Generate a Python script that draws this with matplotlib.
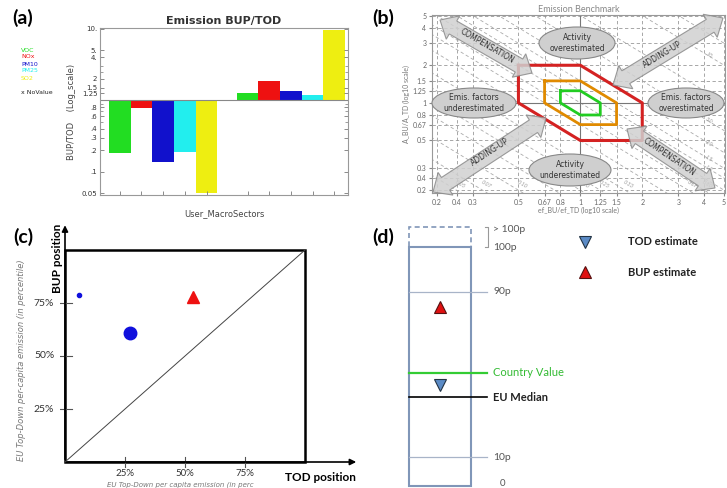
import numpy as np
import matplotlib
matplotlib.use("Agg")
import matplotlib.pyplot as plt
from matplotlib.patches import Polygon, Ellipse, Rectangle

plt.rcParams['font.family'] = ['Lato', 'DejaVu Sans']

W, H = 727, 488

# ---- panel (a) data: BUP/TOD ratio per pollutant, two macro sectors
pollutants = ['VOC', 'NOx', 'PM10', 'PM25', 'SO2']
poll_colors = ['#22dd22', '#ee1111', '#1111cc', '#22eeee', '#eeee11']
sector1 = [0.18, 0.79, 0.135, 0.186, 0.05]
sector2 = [1.25, 1.88, 1.34, 1.2, 9.6]
a_ticks = [10, 5, 4, 2, 1.5, 1.25, 0.8, 0.6, 0.4, 0.3, 0.2, 0.1, 0.05]
a_ticklabels = ['10.', '5.', '4.', '2', '1.5', '1.25', '.8', '.6', '.4', '.3', '.2', '.1', '0.05']
a_minor = [3, 2.5, 1, 0.9, 0.7, 0.5]

# ---- panel (b) data
b_ticks = [0.2, 0.25, 0.3, 0.5, 0.67, 0.8, 1, 1.25, 1.5, 2, 3, 4, 5]
b_ticklabels = ['0.2', '0.4', '0.3', '0.5', '0.67', '0.8', '1', '1.25', '1.5', '2', '3', '4', '5']
iso_values = [0.05, 0.067, 0.1, 0.15, 0.2, 0.25, 0.33, 0.5, 0.67, 0.8, 1, 1.25, 1.5, 2, 3, 5, 10, 15]
iso_bottom = [0.05, 0.067, 0.1, 0.2, 0.25, 0.33, 0.67, 0.8]
iso_right = [10, 3.0, 2.0, 1.5, 1.25]
red_x = [0.5, 1, 2, 2, 1, 0.5, 0.5]
red_y = [2, 2, 1, 0.5, 0.5, 1, 2]
orange_x = [0.67, 1, 1.5, 1.5, 1, 0.67, 0.67]
orange_y = [1.5, 1.5, 1, 0.67, 0.67, 1, 1.5]
green_x = [0.8, 1, 1.25, 1.25, 1, 0.8, 0.8]
green_y = [1.25, 1.25, 1, 0.8, 0.8, 1, 1.25]

# ---- panel (c) data (percentiles)
tod_pos = [6, 27, 53.5]
bup_pos = [79, 61, 78]
c_marker = ['o', 'o', '^']
c_color = ['#1010dd', '#1010dd', '#ee1111']
c_size = [3, 9, 9]
c_ticks = [25, 50, 75]
c_ticklabels = ['25%', '50%', '75%']

# ---- panel (d) data (schematic column height)
d_lines = [81.2, 12.1]
d_line_labels = ['90p', '10p']
country_value = 47.3
eu_median = 37.2
tod_estimate = 42.3
bup_estimate = 74.9

fig = plt.figure(figsize=(W / 100, H / 100), dpi=100)


def px_axes(l, t, r, b):
    return fig.add_axes([l / W, 1 - b / H, (r - l) / W, (b - t) / H])


# =================== (a)
ax = px_axes(100, 28, 348, 195)
xpos1 = np.arange(5) + 0.91
xpos2 = np.arange(5) + 6.8
for i in range(5):
    ax.bar(xpos1[i], sector1[i] - 1, bottom=1, width=1.0, color=poll_colors[i])
    ax.bar(xpos2[i], sector2[i] - 1, bottom=1, width=1.0, color=poll_colors[i])
ax.set_yscale('log')
ax.set_ylim(0.047, 10.3)
ax.set_xlim(0, 11.43)
ax.axhline(1, color='#888888', lw=0.8)
ax.set_yticks(a_ticks)
ax.set_yticklabels(a_ticklabels, fontsize=5, color='#333333', family='DejaVu Sans')
ax.set_yticks(a_minor, minor=True)
ax.yaxis.set_minor_formatter(matplotlib.ticker.NullFormatter())
ax.set_xticks(np.concatenate([xpos1, xpos2]))
ax.set_xticklabels([])
ax.tick_params(direction='in', length=3, color='#777777', right=True, width=0.6, pad=2)
ax.tick_params(which='minor', direction='in', length=2, color='#777777', right=True, width=0.5)
for s in ax.spines.values():
    s.set_color('#999999')
ax.set_title('Emission BUP/TOD', fontsize=8, fontweight='bold', pad=3,
             family='DejaVu Sans', color='#333333')
ax.set_xlabel('User_MacroSectors', fontsize=6, color='#444444', labelpad=8,
              family='DejaVu Sans')
ax.set_ylabel('BUP/TOD    (Log_scale)', fontsize=6, color='#444444', labelpad=4,
              family='DejaVu Sans')
for i, p in enumerate(pollutants):
    fig.text(21 / W, 1 - (50 + 7 * i) / H, p, fontsize=4.5, color=poll_colors[i],
             va='center', family='DejaVu Sans')
fig.text(21 / W, 1 - 92 / H, 'x NoValue', fontsize=4.5, color='#222222', va='center',
         family='DejaVu Sans')

# =================== (b)
bx = px_axes(432, 15, 725, 193)
bx.set_xscale('log')
bx.set_yscale('log')
bx.set_xlim(0.19, 5.05)
bx.set_ylim(0.19, 5.05)
xx = np.logspace(np.log10(0.15), np.log10(6), 50)
for c in iso_values:
    bx.plot(xx, c / xx, ls=(0, (4, 3)), color='#aaaaaa', lw=0.6)
bx.set_xticks(b_ticks)
bx.set_xticklabels(b_ticklabels, fontsize=5, color='#666666')
bx.set_yticks(b_ticks)
bx.set_yticklabels(b_ticklabels, fontsize=5, color='#666666')
bx.xaxis.set_minor_locator(matplotlib.ticker.NullLocator())
bx.yaxis.set_minor_locator(matplotlib.ticker.NullLocator())
bx.tick_params(length=2, color='#888888', pad=2)
bx.grid(True, ls=(0, (4, 3)), color='#999999', lw=0.6)
bx.axvline(1, color='#777777', lw=0.8)
bx.axhline(1, color='#777777', lw=0.8)
for s in bx.spines.values():
    s.set_color('#999999')
bx.plot(red_x, red_y, color='#d42222', lw=2.2, zorder=3)
bx.plot(orange_x, orange_y, color='#e08a00', lw=2.0, zorder=3)
bx.plot(green_x, green_y, color='#22cc22', lw=2.0, zorder=3)
for c in iso_bottom:
    bx.text(c / 0.2 * 1.04, 0.205, '%.2f' % c, fontsize=4, color='#999999', style='italic',
            rotation=-30, ha='center', va='bottom')
for c in iso_right:
    bx.text(4.2, c / 4.2, '%.1f' % c if c < 10 else '10', fontsize=4, color='#999999',
            style='italic', rotation=-30, ha='center', va='center')
bx.set_title('Emission Benchmark', fontsize=6.5, color='#888888', pad=2)
bx.set_xlabel('ef_BU/ef_TD (log10 scale)', fontsize=5, color='#777777', labelpad=1)
bx.set_ylabel('A_BU/A_TD (log10 scale)', fontsize=5, color='#777777', labelpad=2)

# overlay in pixel coordinates for the big arrows and ellipses of (b)
ov = fig.add_axes([0, 0, 1, 1])
ov.set_xlim(0, W)
ov.set_ylim(H, 0)
ov.axis('off')


def block_arrow(p0, p1, w=15, hw=27, hl=15):
    p0 = np.array(p0, float)
    p1 = np.array(p1, float)
    u = (p1 - p0) / np.hypot(*(p1 - p0))
    n = np.array([-u[1], u[0]])
    pts = [p0, p0 + u * hl + n * hw / 2, p0 + u * hl + n * w / 2,
           p1 - u * hl + n * w / 2, p1 - u * hl + n * hw / 2, p1,
           p1 - u * hl - n * hw / 2, p1 - u * hl - n * w / 2,
           p0 + u * hl - n * w / 2, p0 + u * hl - n * hw / 2]
    ov.add_patch(Polygon(pts, closed=True, fc='#d0d0d0', ec='#8a8a8a', lw=0.8, alpha=0.85))


arrows = [((440, 20), (532, 73), 'COMPENSATION', (487, 46), -30),
          ((613, 85), (723, 18), 'ADDING-UP', (662, 55), 31),
          ((433, 192), (546, 118), 'ADDING-UP', (490, 152), 33),
          ((627, 129), (715, 188), 'COMPENSATION', (669, 157), -34)]
for p0, p1, label, pos, rot in arrows:
    block_arrow(p0, p1)
    ov.text(pos[0], pos[1], label, fontsize=5.5, color='#333333', rotation=rot,
            ha='center', va='center', rotation_mode='anchor', family='DejaVu Sans')

ellipses = [((577, 43), 76, 32, 'Activity\noverestimated'),
            ((474, 103), 84, 30, 'Emis. factors\nunderestimated'),
            ((686, 103), 76, 30, 'Emis. factors\noverestimated'),
            ((570, 170), 82, 32, 'Activity\nunderestimated')]
for (cx, cy), ew, eh, label in ellipses:
    ov.add_patch(Ellipse((cx, cy), ew, eh, fc='#cfcfcf', ec='#888888', lw=0.8))
    ov.text(cx, cy, label, fontsize=5.5, color='#333333', ha='center', va='center',
            linespacing=1.3, family='DejaVu Sans')

# =================== (c)
cx_ = px_axes(60, 222, 360, 470)
cx_.patch.set_visible(False)
cx_.set_xlim(-5 / 2.4, 295 / 2.4)
cx_.set_ylim(-8 / 2.12, 240 / 2.12)
cx_.add_patch(Rectangle((0, 0), 100, 100, fill=False, ec='black', lw=1.8))
cx_.plot([0, 100], [0, 100], color='#444444', lw=0.7)
cx_.annotate('', xy=(0, 113), xytext=(0, 0),
             arrowprops=dict(arrowstyle='-|>', color='black', lw=1.2, mutation_scale=9))
cx_.annotate('', xy=(122.5, 0), xytext=(0, 0),
             arrowprops=dict(arrowstyle='-|>', color='black', lw=1.2, mutation_scale=9))
for i in range(3):
    cx_.plot(tod_pos[i], bup_pos[i], marker=c_marker[i], color=c_color[i],
             ms=c_size[i], ls='none')
for s in cx_.spines.values():
    s.set_visible(False)
cx_.set_xticks([])
cx_.set_yticks([])
for t, lab in zip(c_ticks, c_ticklabels):
    cx_.plot([-3, 3], [t, t], color='#555555', lw=0.8)
    cx_.text(-4.5, t, lab, ha='right', va='center', fontsize=7.5, color='#333333')
    cx_.plot([t, t], [-2.5, 2.5], color='#555555', lw=0.8)
    cx_.text(t, -3.2, lab, ha='center', va='top', fontsize=7, color='#333333')
cx_.text(-3, 96, 'BUP position', rotation=90, fontsize=8.5, fontweight='bold',
         ha='center', va='center')
cx_.text(121, -4.8, 'TOD position', fontsize=8.5, fontweight='bold', ha='right', va='top')
fig.text(22 / W, 1 - 360 / H, 'EU Top-Down per-capita emission (in percentile)',
         rotation=90, fontsize=6, style='italic', color='#777777', ha='center', va='center',
         family='DejaVu Sans')
fig.text(180 / W, 0.5 / H, 'EU Top-Down per capita emission (in perc',
         fontsize=5, style='italic', color='#777777', ha='center', va='bottom',
         family='DejaVu Sans')

# =================== (d)
dx = px_axes(360, 220, 727, 488)
dx.set_xlim(0, 367)
dx.set_ylim(-2 / 2.39, 266 / 2.39)
dx.axis('off')
box_c = '#8096b8'
dx.add_patch(Rectangle((49, 0), 62, 100, fill=False, ec=box_c, lw=1.5))
dx.add_patch(Rectangle((49, 100), 62, 8.4, fill=False, ec=box_c, lw=1.2, ls=(0, (3, 2))))
dx.plot([125, 128, 128, 125], [108.4, 108.4, 100, 100], color='#999999', lw=0.8)
dx.text(133, 107.4, '> 100p', fontsize=7.5, color='#555555', va='center')
dx.text(133, 99.8, '100p', fontsize=7.5, color='#555555', va='center')
for lv, lab in zip(d_lines, d_line_labels):
    dx.plot([49, 127], [lv, lv], color='#a8b4c8', lw=0.9)
    dx.text(133, lv, lab, fontsize=7.5, color='#555555', va='center')
dx.text(143, -0.7, '0', fontsize=7, color='#555555', va='bottom', ha='center')
dx.plot([49, 127], [country_value, country_value], color='#33cc33', lw=1.6)
dx.text(133, country_value, 'Country Value', fontsize=8, color='#33bb33', va='center')
dx.plot([49, 127], [eu_median, eu_median], color='black', lw=1.2)
dx.text(133, eu_median, 'EU Median', fontsize=8, fontweight='bold', color='#222222',
        va='center')
dx.plot(80, tod_estimate, marker='v', ms=8, mfc='#5b8bc6', mec='#223344', mew=0.8)
dx.plot(80, bup_estimate, marker='^', ms=8, mfc='#e01010', mec='#551111', mew=0.8)
dx.plot(225, 102.1, marker='v', ms=8, mfc='#5b8bc6', mec='#223344', mew=0.8)
dx.plot(225, 89.5, marker='^', ms=8, mfc='#e01010', mec='#551111', mew=0.8)
dx.text(268, 102.1, 'TOD estimate', fontsize=8, fontweight='bold', color='#222222',
        va='center')
dx.text(268, 89.5, 'BUP estimate', fontsize=8, fontweight='bold', color='#222222',
        va='center')

# panel letters
for lab, x, y in [('(a)', 23, 18), ('(b)', 383, 18), ('(c)', 23, 237), ('(d)', 383, 237)]:
    fig.text(x / W, 1 - y / H, lab, fontsize=14, fontweight='bold', ha='center',
             va='center')

fig.savefig('out.png', dpi=100)
